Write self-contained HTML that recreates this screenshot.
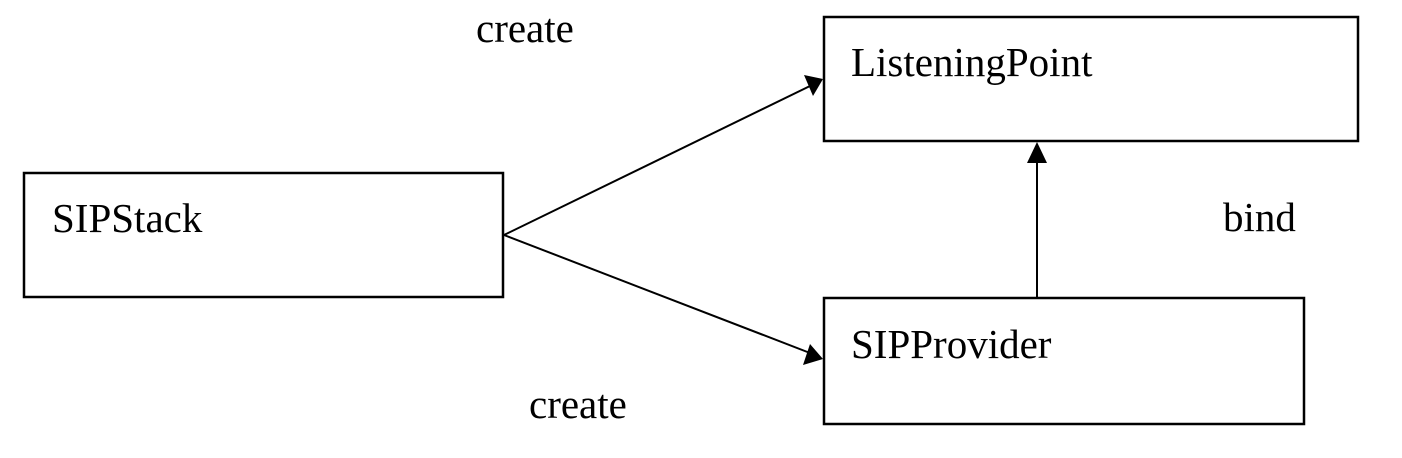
<!DOCTYPE html>
<html><head><meta charset="utf-8"><style>
html,body{margin:0;padding:0;background:#fff;width:1402px;height:458px;overflow:hidden}
text{font-family:"Liberation Serif",serif;font-size:41px;fill:#000}
</style></head><body>
<svg width="1402" height="458" viewBox="0 0 1402 458" xmlns="http://www.w3.org/2000/svg">
<g fill="none" stroke="#000" stroke-width="2.5">
<rect x="24" y="173" width="479" height="124"/>
<rect x="824" y="17" width="534" height="124"/>
<rect x="824" y="298" width="480" height="126"/>
</g>
<g stroke="#000" stroke-width="2">
<line x1="504" y1="235" x2="810" y2="86"/>
<line x1="504" y1="235" x2="810" y2="353"/>
<line x1="1037" y1="298" x2="1037" y2="160"/>
</g>
<g fill="#000">
<polygon points="823,79 804,75 813,96"/>
<polygon points="823,359 803,365 810,344"/>
<polygon points="1037,142 1027,163 1047,163"/>
</g>
<text x="52" y="232">SIPStack</text>
<text x="851" y="76">ListeningPoint</text>
<text x="851" y="358">SIPProvider</text>
<text x="1223" y="231">bind</text>
<text x="476" y="42">create</text>
<text x="529" y="418">create</text>
</svg>
</body></html>
